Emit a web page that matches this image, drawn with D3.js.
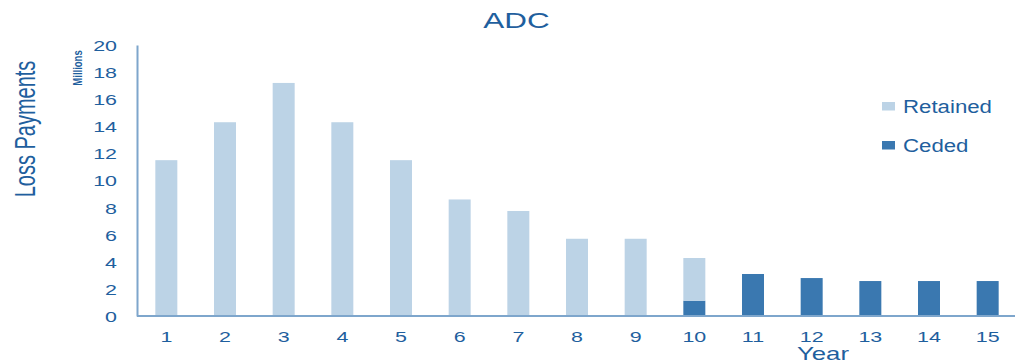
<!DOCTYPE html>
<html>
<head>
<meta charset="utf-8">
<script src="https://cdn.jsdelivr.net/npm/d3@7"></script>
<style>
  html, body { margin: 0; padding: 0; background: #fff; }
  svg { display: block; font-family: "Liberation Sans", Arial, sans-serif; }
</style>
</head>
<body>
<svg id="chart" width="1015" height="364"></svg>
<script>
// Annual loss payments (millions), split into retained and ceded layers
const years = ["1","2","3","4","5","6","7","8","9","10","11","12","13","14","15"];
const retained = [11.5, 14.3, 17.2, 14.3, 11.5, 8.6, 7.75, 5.7, 5.7, 3.15, 0, 0, 0, 0, 0];
const ceded    = [0, 0, 0, 0, 0, 0, 0, 0, 0, 1.13, 3.1, 2.8, 2.58, 2.58, 2.58];
const yTicks = [0, 2, 4, 6, 8, 10, 12, 14, 16, 18, 20];
const seriesNames = ["Retained", "Ceded"];

const colors = { Retained: "#bcd3e6", Ceded: "#3a78b0" };
const textColor = "#1f5f9e";
const axisColor = "#7ea6cc";
const stretch = 1.43; // wide lettering used throughout the chart

const svg = d3.select("#chart");
const plotLeft = 137, plotRight = 1017, plotTop = 45, plotBottom = 316;

const x = d3.scaleBand().domain(years).range([plotLeft, plotRight]).paddingInner(0.625).paddingOuter(0.3125);
const y = d3.scaleLinear().domain([0, 20]).range([plotBottom, plotTop]);

const rows = years.map((yr, i) => ({ year: yr, Ceded: ceded[i], Retained: retained[i] }));
const layers = d3.stack().keys(["Ceded", "Retained"])(rows);

svg.append("g").selectAll("g").data(layers).join("g")
  .attr("fill", d => colors[d.key])
  .selectAll("rect").data(d => d).join("rect")
  .attr("x", d => x(d.data.year))
  .attr("width", x.bandwidth())
  .attr("y", d => y(d[1]))
  .attr("height", d => y(d[0]) - y(d[1]));

// Y axis
const yAxis = svg.append("g").attr("transform", `translate(${plotLeft},0)`)
  .call(d3.axisLeft(y).tickValues(yTicks).tickSize(0));
yAxis.select(".domain").attr("stroke", axisColor).attr("stroke-width", 2);
yAxis.selectAll(".tick text")
  .attr("x", 0).attr("dy", "0.36em")
  .attr("transform", `translate(-20,0) scale(${stretch},1)`)
  .attr("fill", textColor).attr("font-size", 15)
  .attr("font-family", "Liberation Sans, Arial, sans-serif");

// X axis
const xAxis = svg.append("g").attr("transform", `translate(0,${plotBottom})`)
  .call(d3.axisBottom(x).tickSize(0));
xAxis.select(".domain").attr("stroke", axisColor).attr("stroke-width", 2)
  .attr("d", `M${plotLeft},0H1015`);
xAxis.selectAll(".tick text")
  .attr("y", 0).attr("dy", 0)
  .attr("transform", `translate(0,26) scale(${stretch},1)`)
  .attr("fill", textColor).attr("font-size", 15)
  .attr("font-family", "Liberation Sans, Arial, sans-serif");

// Titles
svg.append("text").attr("transform", `translate(516.5,28) scale(${stretch},1)`)
  .attr("text-anchor", "middle").attr("fill", textColor).attr("font-size", 22).text("ADC");

svg.append("text").attr("transform", `translate(35,129) scale(${stretch},1) rotate(-90)`)
  .attr("text-anchor", "middle").attr("fill", textColor).attr("font-size", 20)
  .text("Loss Payments");

svg.append("text").attr("transform", `translate(81.5,68) scale(1.3,1) rotate(-90)`)
  .attr("text-anchor", "middle").attr("fill", textColor).attr("font-size", 9.5)
  .attr("font-weight", "bold").text("Millions");

svg.append("text").attr("transform", `translate(823,360) scale(${stretch},1)`)
  .attr("text-anchor", "middle").attr("fill", textColor).attr("font-size", 18).text("Year");

// Legend
const legend = svg.append("g").selectAll("g").data(seriesNames).join("g")
  .attr("transform", (d, i) => `translate(882,${102 + i * 39})`);
legend.append("rect").attr("width", 13).attr("height", 8.5).attr("fill", d => colors[d]);
legend.append("text").attr("transform", "translate(21,11) scale(1.27,1)")
  .attr("fill", textColor).attr("font-size", 17.5).text(d => d);
</script>
</body>
</html>
